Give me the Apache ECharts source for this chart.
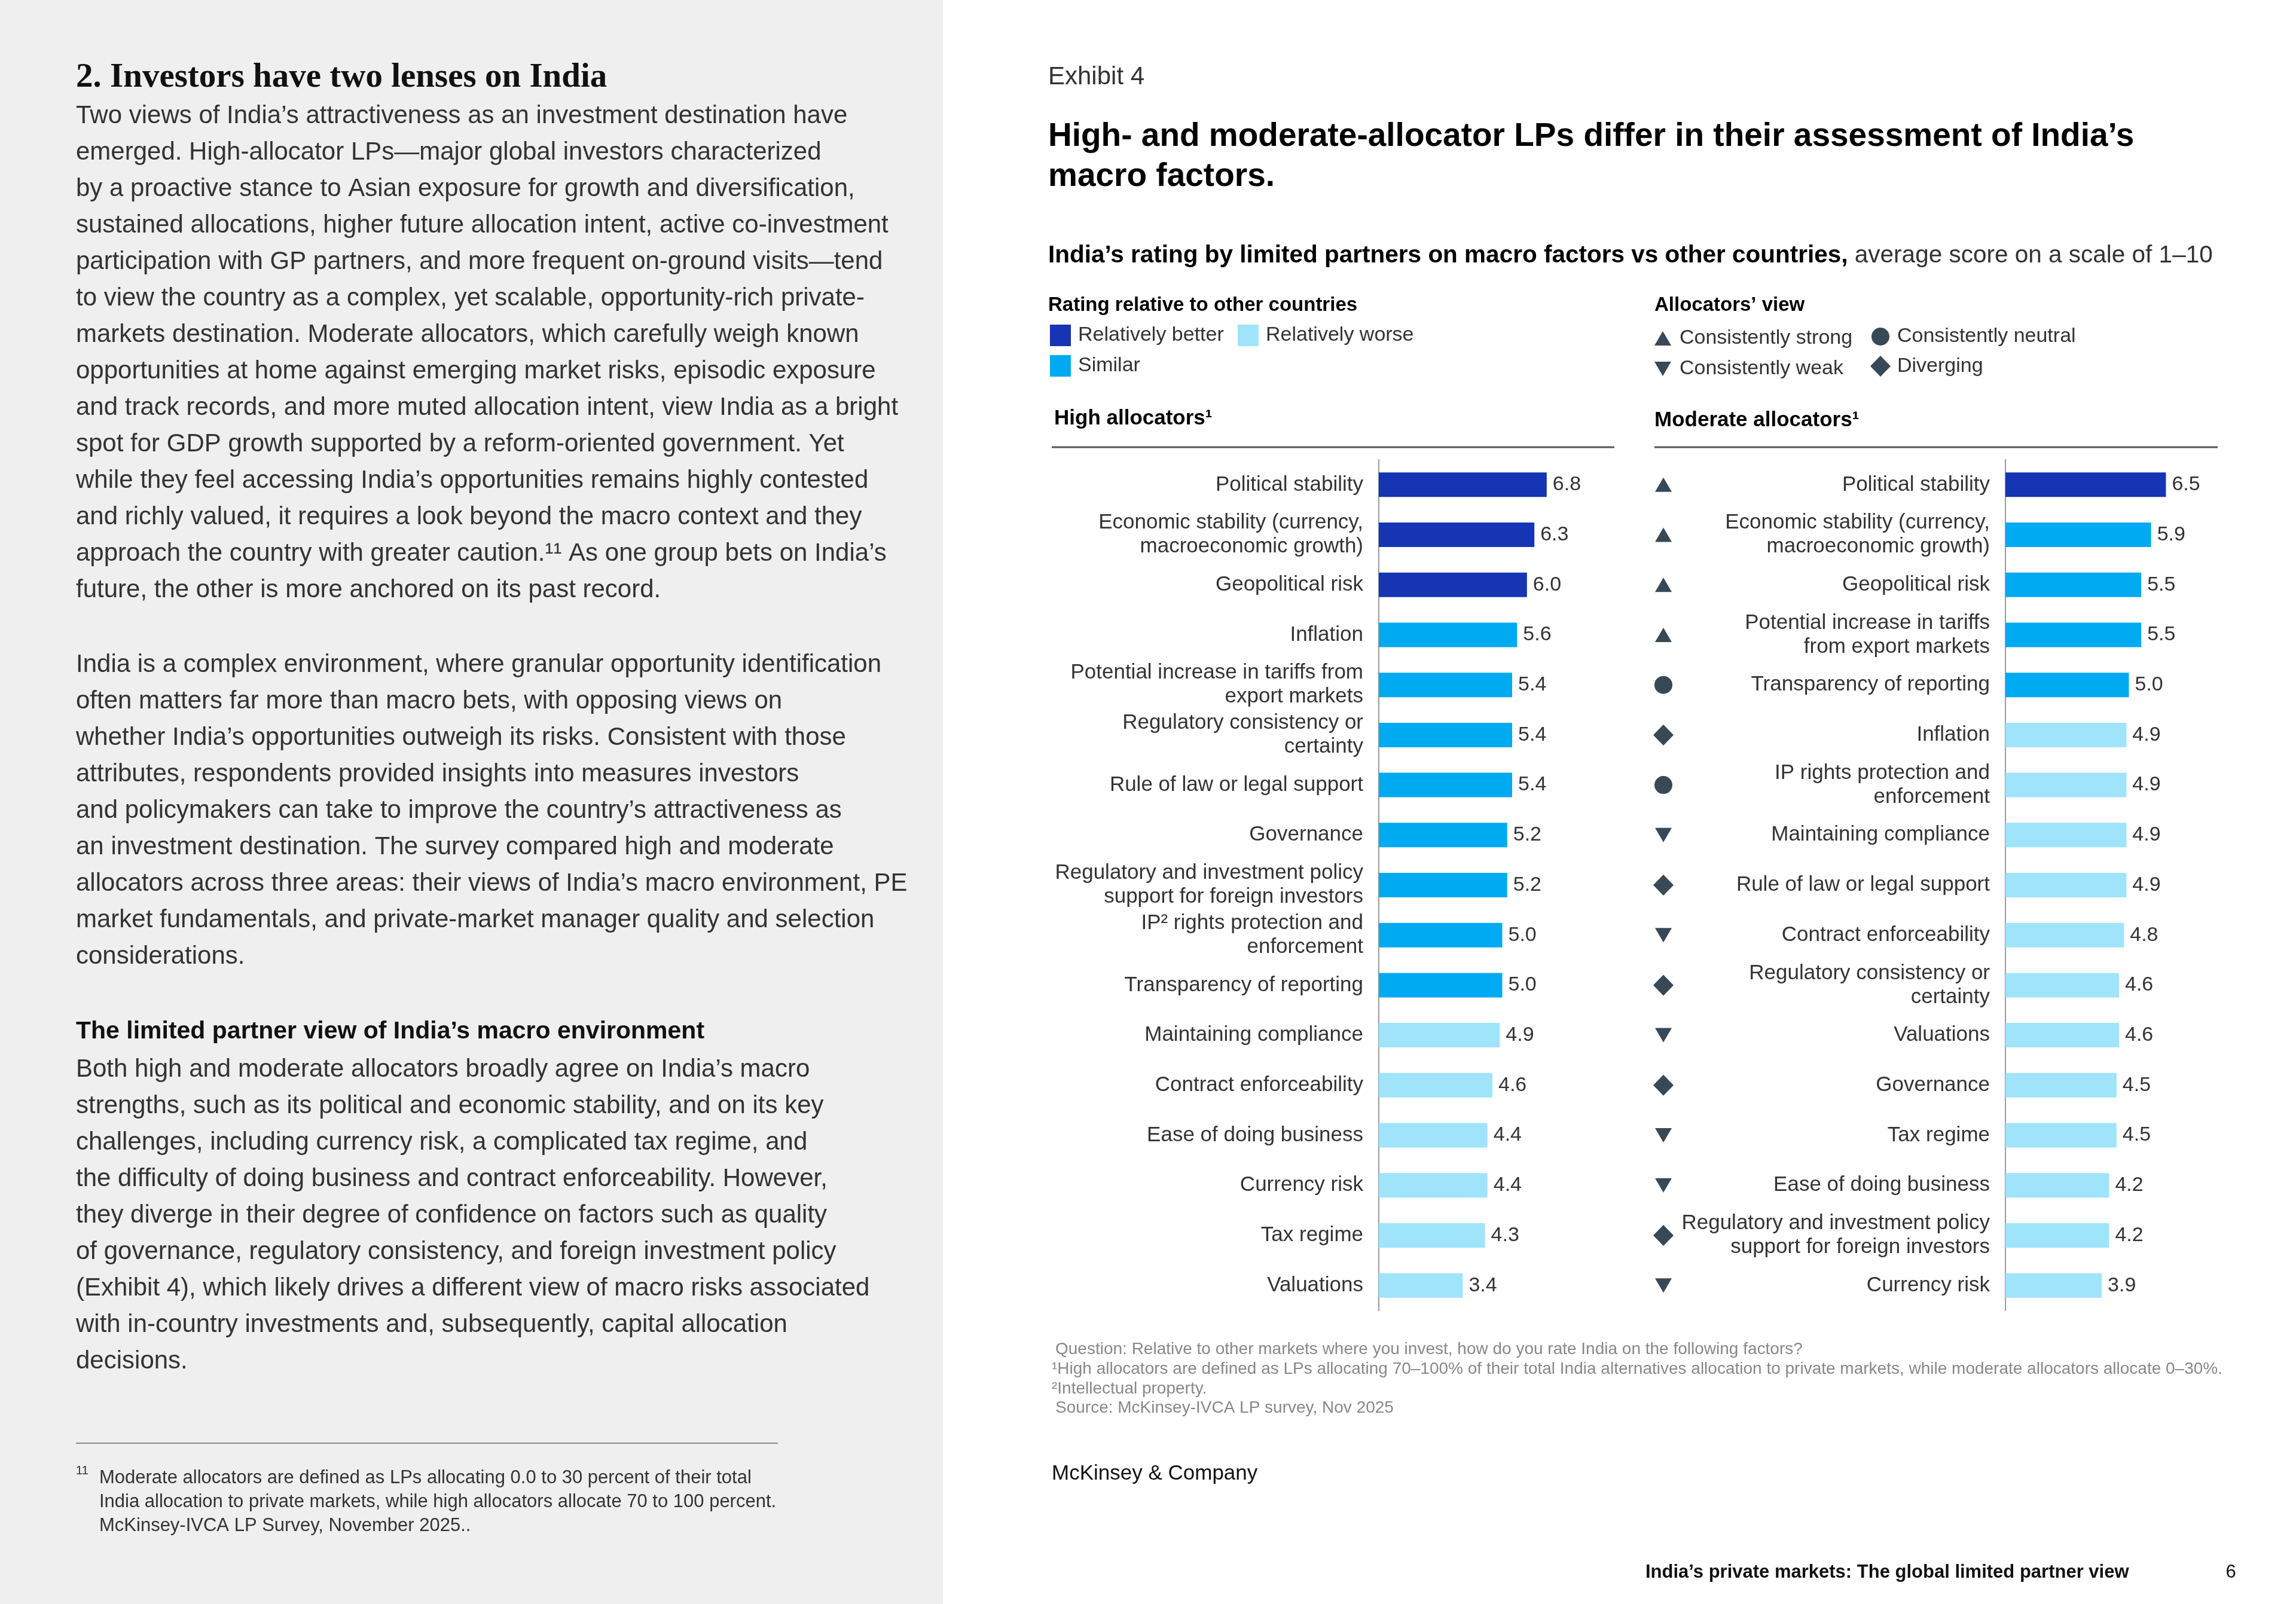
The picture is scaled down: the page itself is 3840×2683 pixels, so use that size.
<!DOCTYPE html>
<html>
<head>
<meta charset="utf-8">
<title>Exhibit 4</title>
<script src="https://cdn.jsdelivr.net/npm/echarts@6.0.0/dist/echarts.min.js"></script>
<style>
  html, body { margin: 0; padding: 0; background: #fff; }
  #page { width: 3840px; height: 2683px; }
</style>
</head>
<body>
<div id="page"></div>
<script>
// high allocators
const highCats = [
  'Political stability', 'Economic stability (currency,\nmacroeconomic growth)', 'Geopolitical risk',
  'Inflation', 'Potential increase in tariffs from\nexport markets', 'Regulatory consistency or\ncertainty',
  'Rule of law or legal support', 'Governance', 'Regulatory and investment policy\nsupport for foreign investors',
  'IP² rights protection and\nenforcement', 'Transparency of reporting', 'Maintaining compliance',
  'Contract enforceability', 'Ease of doing business', 'Currency risk', 'Tax regime', 'Valuations'
];
const highVals = [6.8, 6.3, 6.0, 5.6, 5.4, 5.4, 5.4, 5.2, 5.2, 5.0, 5.0, 4.9, 4.6, 4.4, 4.4, 4.3, 3.4];
const highRating = ['better', 'better', 'better', 'similar', 'similar', 'similar', 'similar', 'similar',
  'similar', 'similar', 'similar', 'worse', 'worse', 'worse', 'worse', 'worse', 'worse'];

// moderate allocators
const modCats = [
  'Political stability', 'Economic stability (currency,\nmacroeconomic growth)', 'Geopolitical risk',
  'Potential increase in tariffs\nfrom export markets', 'Transparency of reporting', 'Inflation',
  'IP rights protection and\nenforcement', 'Maintaining compliance', 'Rule of law or legal support',
  'Contract enforceability', 'Regulatory consistency or\ncertainty', 'Valuations', 'Governance',
  'Tax regime', 'Ease of doing business', 'Regulatory and investment policy\nsupport for foreign investors',
  'Currency risk'
];
const modVals = [6.5, 5.9, 5.5, 5.5, 5.0, 4.9, 4.9, 4.9, 4.9, 4.8, 4.6, 4.6, 4.5, 4.5, 4.2, 4.2, 3.9];
const modRating = ['better', 'similar', 'similar', 'similar', 'similar', 'worse', 'worse', 'worse', 'worse',
  'worse', 'worse', 'worse', 'worse', 'worse', 'worse', 'worse', 'worse'];
const modView = ['strong', 'strong', 'strong', 'strong', 'neutral', 'diverging', 'neutral', 'weak', 'diverging',
  'weak', 'diverging', 'weak', 'diverging', 'weak', 'weak', 'diverging', 'weak'];

const ratings = [
  { key: 'better', name: 'Relatively better', color: '#1535b4' },
  { key: 'similar', name: 'Similar', color: '#00aaf0' },
  { key: 'worse', name: 'Relatively worse', color: '#9fe4fb' }
];
const views = [
  { key: 'strong', name: 'Consistently strong', symbol: 'triangle', size: [28, 24] },
  { key: 'neutral', name: 'Consistently neutral', symbol: 'circle', size: 30 },
  { key: 'weak', name: 'Consistently weak', symbol: 'path://M0,0 L10,0 L5,8.6 Z', size: [28, 24] },
  { key: 'diverging', name: 'Diverging', symbol: 'diamond', size: [34, 35] }
];

const SANS = '"Liberation Sans", Arial, sans-serif';
const SERIF = '"Liberation Serif", "Times New Roman", serif';
const INK = '#051c2c';

const para1 = [
  'Two views of India’s attractiveness as an investment destination have',
  'emerged. High-allocator LPs—major global investors characterized',
  'by a proactive stance to Asian exposure for growth and diversification,',
  'sustained allocations, higher future allocation intent, active co-investment',
  'participation with GP partners, and more frequent on-ground visits—tend',
  'to view the country as a complex, yet scalable, opportunity-rich private-',
  'markets destination. Moderate allocators, which carefully weigh known',
  'opportunities at home against emerging market risks, episodic exposure',
  'and track records, and more muted allocation intent, view India as a bright',
  'spot for GDP growth supported by a reform-oriented government. Yet',
  'while they feel accessing India’s opportunities remains highly contested',
  'and richly valued, it requires a look beyond the macro context and they',
  'approach the country with greater caution.¹¹ As one group bets on India’s',
  'future, the other is more anchored on its past record.'
];
const para2 = [
  'India is a complex environment, where granular opportunity identification',
  'often matters far more than macro bets, with opposing views on',
  'whether India’s opportunities outweigh its risks. Consistent with those',
  'attributes, respondents provided insights into measures investors',
  'and policymakers can take to improve the country’s attractiveness as',
  'an investment destination. The survey compared high and moderate',
  'allocators across three areas: their views of India’s macro environment, PE',
  'market fundamentals, and private-market manager quality and selection',
  'considerations.'
];
const para3 = [
  'Both high and moderate allocators broadly agree on India’s macro',
  'strengths, such as its political and economic stability, and on its key',
  'challenges, including currency risk, a complicated tax regime, and',
  'the difficulty of doing business and contract enforceability. However,',
  'they diverge in their degree of confidence on factors such as quality',
  'of governance, regulatory consistency, and foreign investment policy',
  '(Exhibit 4), which likely drives a different view of macro risks associated',
  'with in-country investments and, subsequently, capital allocation',
  'decisions.'
];
const footLeft = [
  'Moderate allocators are defined as LPs allocating 0.0 to 30 percent of their total',
  'India allocation to private markets, while high allocators allocate 70 to 100 percent.',
  'McKinsey-IVCA LP Survey, November 2025..'
];
const notes = [
  'Question: Relative to other markets where you invest, how do you rate India on the following factors?',
  '¹High allocators are defined as LPs allocating 70–100% of their total India alternatives allocation to private markets, while moderate allocators allocate 0–30%.',
  '²Intellectual property.',
  'Source: McKinsey-IVCA LP survey, Nov 2025'
];

function txt(x, y, text, font, fill, extra) {
  return {
    type: 'text', x: x, y: y, silent: true,
    style: Object.assign({ text: text, font: font, fill: fill, textVerticalAlign: 'middle' }, extra || {})
  };
}
function block(x, yFirst, lines, font, fill, lh) {
  return {
    type: 'text', x: x, y: yFirst - lh / 2, silent: true,
    style: { text: lines.join('\n'), font: font, fill: fill, lineHeight: lh, textVerticalAlign: 'top' }
  };
}
function rule(x1, x2, y, color, w) {
  return { type: 'line', silent: true, shape: { x1: x1, y1: y, x2: x2, y2: y }, style: { stroke: color, lineWidth: w } };
}

const graphics = [
  { type: 'rect', silent: true, z: -10, shape: { x: 0, y: 0, width: 1577, height: 2683 }, style: { fill: '#efefef' } },
  txt(127, 130, '2. Investors have two lenses on India', 'bold 57px ' + SERIF, '#111'),
  block(127, 194, para1, '42px ' + SANS, '#333', 61),
  block(127, 1112, para2, '42px ' + SANS, '#333', 61),
  txt(127, 1726, 'The limited partner view of India’s macro environment', 'bold 41px ' + SANS, '#111'),
  block(127, 1789, para3, '42px ' + SANS, '#333', 61),
  rule(127, 1301, 2414, '#8c8c8c', 2),
  txt(127, 2460, '11', '20px ' + SANS, '#333'),
  block(166, 2472, footLeft, '31px ' + SANS, '#333', 40),

  txt(1753, 129, 'Exhibit 4', '42px ' + SANS, '#333'),
  block(1753, 229, ['High- and moderate-allocator LPs differ in their assessment of India’s', 'macro factors.'],
    'bold 55px ' + SANS, '#000', 67),
  {
    type: 'text', x: 1753, y: 428, silent: true,
    style: {
      text: '{b|India’s rating by limited partners on macro factors vs other countries,}{r| average score on a scale of 1–10}',
      textVerticalAlign: 'middle',
      rich: {
        b: { font: 'bold 40.5px ' + SANS, fill: '#000' },
        r: { font: '40.5px ' + SANS, fill: '#333' }
      }
    }
  },
  txt(1753, 511, 'Rating relative to other countries', 'bold 33px ' + SANS, '#000'),
  txt(2767, 511, 'Allocators’ view', 'bold 33px ' + SANS, '#000'),
  txt(1763, 700, 'High allocators¹', 'bold 35px ' + SANS, '#000'),
  txt(2767, 703, 'Moderate allocators¹', 'bold 35px ' + SANS, '#000'),
  rule(1759, 2700, 748, '#555', 3),
  rule(2767, 3709, 748, '#555', 3),
  txt(1765, 2257, notes[0], '28px ' + SANS, '#888'),
  txt(1759, 2290, notes[1], '28px ' + SANS, '#888'),
  txt(1759, 2323, notes[2], '28px ' + SANS, '#888'),
  txt(1765, 2355, notes[3], '28px ' + SANS, '#888'),
  txt(1759, 2465, 'McKinsey & Company', '35px ' + SANS, '#111'),
  txt(2752, 2630, 'India’s private markets: The global limited partner view', 'bold 31px ' + SANS, '#111'),
  txt(3731, 2630, '6', '31px ' + SANS, '#111', { textAlign: 'center' })
];

function barSeries(cats, vals, rating, axisIdx, stack) {
  return ratings.map(function (r) {
    return {
      type: 'bar', name: r.name, stack: stack,
      xAxisIndex: axisIdx, yAxisIndex: axisIdx,
      barWidth: 41,
      itemStyle: { color: r.color },
      label: {
        show: true, position: 'right', distance: 10,
        fontFamily: SANS, fontSize: 34, color: '#333',
        formatter: function (p) { return Number(p.value).toFixed(1); }
      },
      data: vals.map(function (v, i) { return rating[i] === r.key ? v : '-'; })
    };
  });
}

const markerSeries = views.map(function (v) {
  return {
    type: 'scatter', name: v.name, xAxisIndex: 2, yAxisIndex: 2,
    symbol: v.symbol, symbolSize: v.size,
    itemStyle: { color: INK },
    data: modCats.map(function (c, i) { return modView[i] === v.key ? [0.5, c] : null; })
      .filter(function (d) { return d; })
  };
});

function catAxis(cats, grid, show) {
  return {
    type: 'category', gridIndex: grid, data: cats, inverse: true,
    axisLine: { show: show, lineStyle: { color: '#9a9a9a', width: 2 } },
    axisTick: { show: false },
    axisLabel: {
      show: show, margin: 26, fontFamily: SANS, fontSize: 35, color: '#333',
      lineHeight: 40, align: 'right'
    }
  };
}
function valAxis(grid, max) {
  return { type: 'value', gridIndex: grid, min: 0, max: max, show: false };
}

function legendItem(name, left, top, w, h, gap, icon) {
  const l = {
    data: [name], left: left, top: top, padding: 0,
    itemWidth: w, itemHeight: h, selectedMode: false,
    textStyle: { fontFamily: SANS, fontSize: 34, color: '#333', padding: [0, 0, 0, gap] }
  };
  if (icon) l.icon = icon;
  return l;
}

const chart = echarts.init(document.getElementById('page'), null, { renderer: 'canvas' });
chart.setOption({
  backgroundColor: '#ffffff',
  animation: false,
  grid: [
    { left: 2306, top: 769, width: 413, height: 1423 },
    { left: 3354, top: 769, width: 413, height: 1423 },
    { left: 2762, top: 769, width: 40, height: 1423 }
  ],
  xAxis: [valAxis(0, 10), valAxis(1, 10), valAxis(2, 1)],
  yAxis: [catAxis(highCats, 0, true), catAxis(modCats, 1, true), catAxis(modCats, 2, false)],
  legend: [
    legendItem('Relatively better', 1756, 543, 35, 36, 7, 'rect'),
    legendItem('Relatively worse', 2070, 543, 35, 36, 7, 'rect'),
    legendItem('Similar', 1756, 594, 35, 36, 7, 'rect'),
    legendItem('Consistently strong', 2767, 549, 28, 24, 9),
    legendItem('Consistently neutral', 3130, 546, 30, 30, 8),
    legendItem('Consistently weak', 2767, 600, 28, 24, 9),
    legendItem('Diverging', 3128, 595, 34, 35, 6)
  ],
  graphic: graphics,
  series: barSeries(highCats, highVals, highRating, 0, 'high')
    .concat(barSeries(modCats, modVals, modRating, 1, 'mod'))
    .concat(markerSeries)
});
</script>
</body>
</html>
